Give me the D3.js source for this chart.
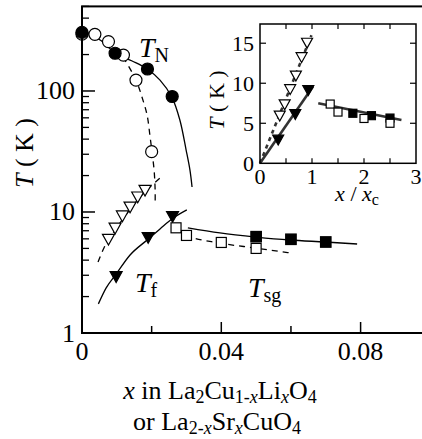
<!DOCTYPE html>
<html>
<head>
<meta charset="utf-8">
<script src="https://cdn.jsdelivr.net/npm/d3@7"></script>
<style>
  body { margin: 0; background: #fff; }
</style>
</head>
<body>
<div id="chart"></div>
<script>
// ---- data ----
// T_N (Neel temperature)
const xLiTN = [0, 0.0037, 0.0076, 0.0119, 0.0155, 0.020];
const tLiTN = [295, 294, 256, 198, 123, 31.5];
const xSrTN = [0, 0.0095, 0.0188, 0.0259];
const tSrTN = [305, 205, 152, 90];
// T_f
const xLiTf = [0.0076, 0.0095, 0.0116, 0.0138, 0.016, 0.0181];
const tLiTf = [5.9, 7.3, 9.2, 10.9, 13.2, 15.0];
const xSrTf = [0.0098, 0.019, 0.026];
const tSrTf = [2.9, 6.1, 9.1];
// T_sg
const xLiTsg = [0.027, 0.030, 0.040, 0.050];
const tLiTsg = [7.4, 6.4, 5.6, 5.0];
const xSrTsg = [0.050, 0.060, 0.070];
const tSrTsg = [6.25, 5.95, 5.65];

// guide curves
const curveSrTN_x = [0, 0.0052, 0.0095, 0.0144, 0.0187, 0.0224, 0.0258, 0.0281, 0.0299, 0.031, 0.0316];
const curveSrTN_t = [305, 264, 206, 177, 152, 123, 89, 57.6, 32.5, 22.2, 16.1];
const curveLiTN_x = [0.0118, 0.0155, 0.0175, 0.0187, 0.0195, 0.0201, 0.0207, 0.021, 0.021];
const curveLiTN_t = [191, 123, 84, 63, 43, 31.3, 22.2, 15.2, 11.4];
const curveSrTf_x = [0.0047, 0.0069, 0.0098, 0.0138, 0.0187, 0.0224, 0.0258, 0.0301];
const curveSrTf_t = [1.74, 2.35, 3.07, 4.41, 5.87, 7.24, 8.75, 10.4];
const curveLiTf_x = [0.0046, 0.0063, 0.008, 0.0124, 0.0167, 0.0224];
const curveLiTf_t = [3.86, 5.04, 6.1, 9.27, 13.3, 19.1];
const curveSrTsg_x = [0.0304, 0.0396, 0.050, 0.0597, 0.0698, 0.079];
const curveSrTsg_t = [7.38, 6.71, 6.21, 5.87, 5.65, 5.44];
const curveLiTsg_x = [0.027, 0.0299, 0.0396, 0.0497, 0.060];
const curveLiTsg_t = [7.24, 6.45, 5.54, 5.04, 4.58];

// inset: x scaled by critical concentration
const xcLi = 0.020;
const xcSr = 0.028;
const insetLiLine_x = [0, 0.99];
const insetLiLine_t = [0, 16.0];
const insetSrLine_x = [0, 1.02];
const insetSrLine_t = [0, 9.6];
const insetTsgLine_x = [1.12, 2.72];
const insetTsgLine_t = [7.5, 5.4];

const yTicksMain = [1, 10, 100];
const xTicksMain = [0, 0.04, 0.08];
const xTicksInset = [0, 1, 2, 3];
const yTicksInset = [0, 5, 10, 15];

// ---- chart ----
const W = 422, H = 439;
const FONT = "Liberation Serif";
const svg = d3.select("#chart").append("svg")
    .attr("width", W).attr("height", H)
    .attr("font-family", FONT);

const x = d3.scaleLinear().domain([0, 0.1]).range([82, 430.25]);
const y = d3.scaleLog().domain([1, 500]).range([333, 6.4]);

const zip = (a, b) => a.map((v, i) => [v, b[i]]);

const line = d3.line()
    .x(d => x(d[0])).y(d => y(d[1]))
    .curve(d3.curveMonotoneX);
const lineY = d3.line()
    .x(d => x(d[0])).y(d => y(d[1]))
    .curve(d3.curveCatmullRom);

const drawCurve = (pts, dashed, gen) => {
    svg.append("path")
        .attr("d", (gen || line)(pts))
        .attr("fill", "none")
        .attr("stroke", "#000")
        .attr("stroke-width", 1.3)
        .attr("stroke-dasharray", dashed ? "6,5" : null);
};

drawCurve(zip(curveSrTN_x, curveSrTN_t), false, lineY);
drawCurve(zip(curveLiTN_x, curveLiTN_t), true, lineY);
drawCurve(zip(curveSrTf_x, curveSrTf_t), false);
drawCurve(zip(curveLiTf_x, curveLiTf_t), true);
drawCurve(zip(curveSrTsg_x, curveSrTsg_t), false);
drawCurve(zip(curveLiTsg_x, curveLiTsg_t), true);

// marker helpers
const triPath = (w) => {
    const h = w * 0.9;
    return `M${-w / 2},${-h / 2}L${w / 2},${-h / 2}L0,${h / 2}Z`;
};

const circles = (g, xs, ts, filled, sx, sy, r) => {
    g.selectAll(null).data(zip(xs, ts)).enter().append("circle")
        .attr("cx", d => sx(d[0])).attr("cy", d => sy(d[1])).attr("r", r)
        .attr("fill", filled ? "#000" : "#fff")
        .attr("stroke", "#000").attr("stroke-width", 1.2);
};
const triangles = (g, xs, ts, filled, sx, sy, w) => {
    g.selectAll(null).data(zip(xs, ts)).enter().append("path")
        .attr("d", triPath(w))
        .attr("transform", d => `translate(${sx(d[0])},${sy(d[1])})`)
        .attr("fill", filled ? "#000" : "#fff")
        .attr("stroke", "#000").attr("stroke-width", 1.2);
};
const squares = (g, xs, ts, filled, sx, sy, s) => {
    g.selectAll(null).data(zip(xs, ts)).enter().append("rect")
        .attr("x", d => sx(d[0]) - s / 2).attr("y", d => sy(d[1]) - s / 2)
        .attr("width", s).attr("height", s)
        .attr("fill", filled ? "#000" : "#fff")
        .attr("stroke", "#000").attr("stroke-width", 1.2);
};

circles(svg, xLiTN, tLiTN, false, x, y, 6);
circles(svg, xSrTN, tSrTN, true, x, y, 6);
triangles(svg, xLiTf, tLiTf, false, x, y, 12);
triangles(svg, xSrTf, tSrTf, true, x, y, 12);
squares(svg, xSrTsg, tSrTsg, true, x, y, 10.5);
squares(svg, xLiTsg, tLiTsg, false, x, y, 10);

// frame + axes
svg.append("rect")
    .attr("x", x(0)).attr("y", y(500))
    .attr("width", x(0.1) - x(0)).attr("height", y(1) - y(500))
    .attr("fill", "none").attr("stroke", "#000").attr("stroke-width", 2);

const minorY = [];
[1, 10, 100].forEach(d => { for (let k = 2; k <= 9; k++) if (d * k <= 500) minorY.push(d * k); });

svg.append("g").selectAll("line").data(minorY).enter().append("line")
    .attr("x1", x(0)).attr("x2", x(0) + 7)
    .attr("y1", d => y(d)).attr("y2", d => y(d))
    .attr("stroke", "#000").attr("stroke-width", 1.3);
svg.append("g").selectAll("line").data(yTicksMain).enter().append("line")
    .attr("x1", x(0)).attr("x2", x(0) + 13)
    .attr("y1", d => y(d)).attr("y2", d => y(d))
    .attr("stroke", "#000").attr("stroke-width", 1.5);
svg.append("g").selectAll("text").data(yTicksMain).enter().append("text")
    .attr("font-family", FONT)
    .attr("x", 75).attr("y", d => y(d) + 8.5)
    .attr("text-anchor", "end").attr("font-size", 26)
    .text(d => d);

svg.append("g").selectAll("line").data([0.02, 0.04, 0.06, 0.08]).enter().append("line")
    .attr("x1", d => x(d)).attr("x2", d => x(d))
    .attr("y1", y(1)).attr("y2", d => y(1) - (Math.round(d * 100) % 4 === 0 ? 11 : 7))
    .attr("stroke", "#000").attr("stroke-width", 1.5);
svg.append("g").selectAll("text").data(xTicksMain).enter().append("text")
    .attr("font-family", FONT)
    .attr("x", d => x(d)).attr("y", 360)
    .attr("text-anchor", "middle").attr("font-size", 26)
    .text(d => d === 0 ? "0" : d.toFixed(2));

// rich text helper: segments [text, italic, sub]
const rich = (g, segs, size, subSize, subShift) => {
    let shift = 0;
    g.attr("font-family", FONT);
    segs.forEach(([t, it, sub]) => {
        const target = sub ? subShift : 0;
        g.append("tspan")
            .attr("font-family", FONT)
            .attr("dy", target - shift)
            .attr("font-size", sub ? subSize : size)
            .attr("font-style", it ? "italic" : "normal")
            .text(t);
        shift = target;
    });
};

// axis titles
const yt = svg.append("text")
    .attr("transform", "translate(33,153) rotate(-90)")
    .attr("text-anchor", "middle").attr("font-size", 26);
rich(yt, [["T", true, false], [" ( K )", false, false]], 26, 18, 0);

const xt1 = svg.append("text").attr("x", 220).attr("y", 399)
    .attr("text-anchor", "middle").attr("font-size", 26);
rich(xt1, [["x", true, false], ["  in La", false, false], ["2", false, true], ["Cu", false, false],
    ["1-", false, true], ["x", true, true], ["Li", false, false], ["x", true, true],
    ["O", false, false], ["4", false, true]], 26, 18, 4);
const xt2 = svg.append("text").attr("x", 217).attr("y", 430)
    .attr("text-anchor", "middle").attr("font-size", 26);
rich(xt2, [["or La", false, false], ["2-", false, true], ["x", true, true], ["Sr", false, false],
    ["x", true, true], ["CuO", false, false], ["4", false, true]], 26, 18, 4);

// phase labels
const lab = (px, py, main, sub) => {
    const t = svg.append("text").attr("x", px).attr("y", py).attr("font-size", 28);
    rich(t, [[main, true, false], [sub, false, true]], 28, 20, 5);
};
lab(139, 57, "T", "N");
lab(135, 292, "T", "f");
lab(248, 297, "T", "sg");

// ---- inset ----
const ix = d3.scaleLinear().domain([0, 3]).range([260, 416]);
const iy = d3.scaleLinear().domain([0, 17.4]).range([163.3, 24]);
const ins = svg.append("g");

ins.append("rect").attr("x", 260).attr("y", 24).attr("width", 156).attr("height", 139.3)
    .attr("fill", "#fff");

const iline = d3.line().x(d => ix(d[0])).y(d => iy(d[1]));
const iCurve = (xs, ts, dashed) => {
    ins.append("path").attr("d", iline(zip(xs, ts)))
        .attr("fill", "none").attr("stroke", "#333").attr("stroke-width", 2.6)
        .attr("stroke-dasharray", dashed ? "4,4" : null);
};
iCurve(insetLiLine_x, insetLiLine_t, true);
iCurve(insetSrLine_x, insetSrLine_t, false);
iCurve(insetTsgLine_x, insetTsgLine_t, false);

triangles(ins, xLiTf.map(v => v / xcLi), tLiTf, false, ix, iy, 11);
triangles(ins, xSrTf.map(v => v / xcSr), tSrTf, true, ix, iy, 11);
squares(ins, xSrTsg.map(v => v / xcSr), tSrTsg, true, ix, iy, 8);
squares(ins, xLiTsg.map(v => v / xcLi), tLiTsg, false, ix, iy, 8);

ins.append("rect").attr("x", 260).attr("y", 24).attr("width", 156).attr("height", 139.3)
    .attr("fill", "none").attr("stroke", "#000").attr("stroke-width", 1.5);

const ixt = d3.range(0.5, 3, 0.5);
ins.append("g").selectAll("line").data(ixt.flatMap(d => [[d, 0], [d, 1]])).enter().append("line")
    .attr("x1", d => ix(d[0])).attr("x2", d => ix(d[0]))
    .attr("y1", d => d[1] ? iy(17.4) : iy(0))
    .attr("y2", d => d[1] ? iy(17.4) + 5 : iy(0) - 5)
    .attr("stroke", "#000").attr("stroke-width", 1.2);
ins.append("g").selectAll("line").data([5, 10, 15].flatMap(d => [[d, 0], [d, 1]])).enter().append("line")
    .attr("x1", d => d[1] ? ix(3) : ix(0))
    .attr("x2", d => d[1] ? ix(3) - 6 : ix(0) + 6)
    .attr("y1", d => iy(d[0])).attr("y2", d => iy(d[0]))
    .attr("stroke", "#000").attr("stroke-width", 1.2);

ins.append("g").selectAll("text").data(yTicksInset).enter().append("text")
    .attr("font-family", FONT)
    .attr("x", 254).attr("y", d => iy(d) + 7.5)
    .attr("text-anchor", "end").attr("font-size", 22)
    .text(d => d);
ins.append("g").selectAll("text").data(xTicksInset).enter().append("text")
    .attr("font-family", FONT)
    .attr("x", d => ix(d)).attr("y", 184)
    .attr("text-anchor", "middle").attr("font-size", 22)
    .text(d => d);

const iyt = ins.append("text")
    .attr("transform", "translate(224,100) rotate(-90)")
    .attr("text-anchor", "middle").attr("font-size", 22);
rich(iyt, [["T", true, false], [" ( K )", false, false]], 22, 16, 0);

const ixl = ins.append("text").attr("x", 357).attr("y", 201)
    .attr("text-anchor", "middle").attr("font-size", 22);
rich(ixl, [["x", true, false], [" / ", false, false], ["x", true, false], ["c", false, true]], 22, 16, 4);
</script>
</body>
</html>
